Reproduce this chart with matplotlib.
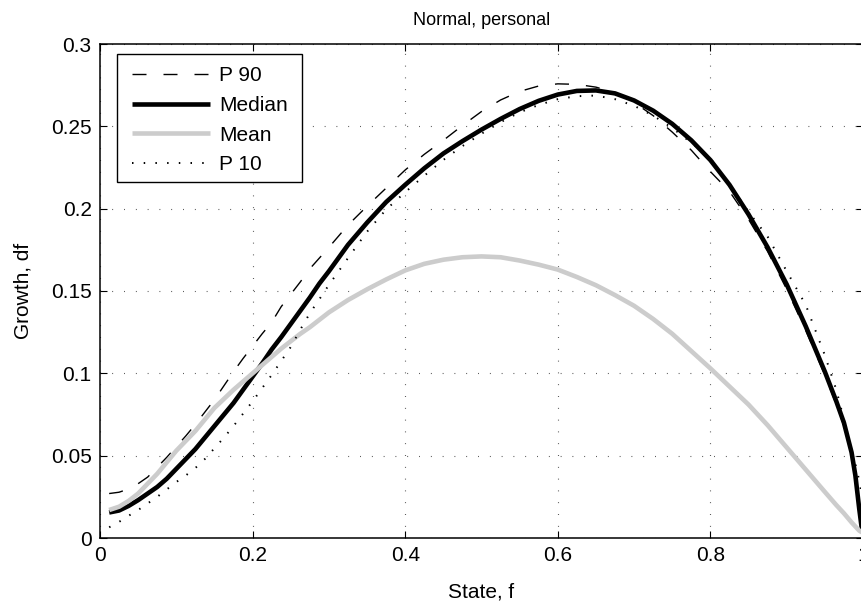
import matplotlib
matplotlib.use("Agg")
import matplotlib.pyplot as plt
from matplotlib.patches import Rectangle

plt.rcParams['font.family'] = ['Liberation Sans', 'DejaVu Sans']
plt.rcParams['lines.scale_dashes'] = False

# ---- data ----
state = [0.012, 0.025, 0.0375, 0.05, 0.0625, 0.075, 0.0875, 0.1, 0.1125, 0.125,
         0.1375, 0.15, 0.1625, 0.175, 0.1875, 0.2, 0.2125, 0.225, 0.2375, 0.25,
         0.2625, 0.275, 0.2875, 0.3, 0.325, 0.35, 0.375, 0.4, 0.425, 0.45,
         0.475, 0.5, 0.525, 0.55, 0.575, 0.6, 0.625, 0.65, 0.675, 0.7, 0.725,
         0.75, 0.775, 0.8, 0.825, 0.85, 0.875, 0.9, 0.925, 0.95, 0.965, 0.975,
         0.985, 0.99, 0.995, 1.0]

p90 = [0.027, 0.0278, 0.0298, 0.033, 0.037, 0.043, 0.049, 0.0555, 0.062, 0.069,
       0.0765, 0.084, 0.0925, 0.101, 0.109, 0.1165, 0.124, 0.131, 0.1405, 0.148,
       0.1555, 0.1635, 0.170, 0.1765, 0.190, 0.2015, 0.2125, 0.2235, 0.233, 0.2415,
       0.2505, 0.259, 0.266, 0.2712, 0.2745, 0.2758, 0.2755, 0.2738, 0.2705, 0.2645,
       0.2565, 0.2465, 0.2355, 0.2225, 0.2105, 0.1935, 0.174, 0.151, 0.126, 0.099,
       0.081, 0.068, 0.050, 0.036, 0.017, 0.0]

median = [0.0155, 0.0167, 0.0195, 0.023, 0.027, 0.031, 0.036, 0.042, 0.048, 0.054,
          0.061, 0.068, 0.075, 0.082, 0.090, 0.098, 0.106, 0.1145, 0.122, 0.130,
          0.138, 0.146, 0.1545, 0.162, 0.178, 0.1915, 0.204, 0.2145, 0.2245, 0.2335,
          0.241, 0.248, 0.2545, 0.2605, 0.2655, 0.2693, 0.2715, 0.2718, 0.2700, 0.2657,
          0.2595, 0.2515, 0.2415, 0.2295, 0.2145, 0.1965, 0.1765, 0.154, 0.1285, 0.101,
          0.083, 0.070, 0.052, 0.038, 0.018, 0.0]

mean = [0.017, 0.019, 0.0225, 0.027, 0.033, 0.039, 0.046, 0.053, 0.059, 0.065,
        0.072, 0.079, 0.0845, 0.090, 0.095, 0.100, 0.105, 0.110, 0.115, 0.1195,
        0.124, 0.128, 0.1325, 0.137, 0.1445, 0.151, 0.157, 0.1625, 0.1665, 0.169,
        0.1705, 0.171, 0.1705, 0.1685, 0.166, 0.163, 0.1585, 0.1535, 0.1475, 0.141,
        0.133, 0.124, 0.1135, 0.103, 0.092, 0.081, 0.0685, 0.055, 0.0415, 0.028,
        0.020, 0.015, 0.0095, 0.007, 0.0045, 0.003]

p10 = [0.0065, 0.0098, 0.0135, 0.017, 0.021, 0.025, 0.0295, 0.034, 0.038, 0.0425,
       0.048, 0.0545, 0.061, 0.068, 0.0755, 0.083, 0.091, 0.099, 0.1075, 0.116,
       0.1265, 0.1365, 0.145, 0.1537, 0.170, 0.186, 0.1995, 0.210, 0.220, 0.2296,
       0.238, 0.2455, 0.2525, 0.2585, 0.263, 0.2665, 0.2683, 0.2687, 0.2665, 0.2625,
       0.2565, 0.249, 0.240, 0.2305, 0.2152, 0.198, 0.183, 0.162, 0.1415, 0.111,
       0.090, 0.072, 0.054, 0.045, 0.035, 0.022]

xticks = [0, 0.2, 0.4, 0.6, 0.8, 1]
xticklabels = ['0', '0.2', '0.4', '0.6', '0.8', '1']
yticks = [0, 0.05, 0.1, 0.15, 0.2, 0.25, 0.3]
yticklabels = ['0', '0.05', '0.1', '0.15', '0.2', '0.25', '0.3']

W, H = 861, 606
fig = plt.figure(figsize=(W / 100, H / 100), dpi=100)
ax = fig.add_axes([100 / W, (H - 538) / H, 763 / W, 494 / H])

px = 72 / 100  # points per pixel
ax.plot(state, p90, color='black', lw=1.0, dashes=(14 * px, 17 * px), label='P 90')
ax.plot(state, median, color='black', lw=3.3, solid_capstyle='butt',
        solid_joinstyle='round', label='Median')
ax.plot(state, mean, color='#cccccc', lw=3.3, solid_capstyle='butt',
        solid_joinstyle='round', label='Mean')
ax.plot(state, p10, color='black', lw=1.4, dashes=(1.5 * px, 10.2 * px), label='P 10')

ax.set_xlim(0, 1)
ax.set_ylim(0, 0.3)
ax.set_xticks(xticks)
ax.set_xticklabels(xticklabels)
ax.set_yticks(yticks)
ax.set_yticklabels(yticklabels)
ax.tick_params(direction='in', length=5, width=0.8, top=True, right=True,
               labelsize=15, pad=6, color='black')
for s in ax.spines.values():
    s.set_linewidth(1.1)
ax.grid(True, color='#333333', lw=0.8, linestyle=(0, (0.8 * px, 11 * px)))

ax.set_title('Normal, personal', fontsize=13, pad=14)
ax.set_xlabel('State, f', fontsize=15)
ax.xaxis.set_label_coords(0.5, -44 / 494)
ax.set_ylabel('Growth, df', fontsize=15, labelpad=13)

# legend frame drawn separately so the inner padding matches the reference
frame = Rectangle((116.7 / W, 1 - 181.7 / H), (302 - 116.7) / W, 127.4 / H,
                  transform=fig.transFigure, facecolor='white', edgecolor='black',
                  lw=1.0, zorder=4.9, clip_on=False)
ax.add_artist(frame)

leg = ax.legend(loc='upper left', bbox_to_anchor=(132.3 / W, 1 - 66 / H),
                bbox_transform=fig.transFigure, borderaxespad=0, fontsize=15,
                handlelength=3.75, handletextpad=0.4, labelspacing=0.52,
                borderpad=0, frameon=False)
leg.set_zorder(5)

fig.savefig('out.png', dpi=100)
